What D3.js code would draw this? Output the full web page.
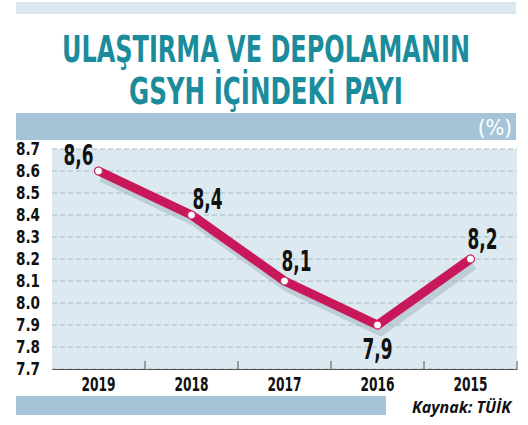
<!DOCTYPE html><html><head><meta charset="utf-8"><script src="https://d3js.org/d3.v7.min.js"></script>
<style>body{margin:0;background:#fff}</style></head><body><svg id="c" width="528" height="425"></svg>
<script>
const years=["2019","2018","2017","2016","2015"];
const values=[8.6,8.4,8.1,7.9,8.2];
const labels=["8,6","8,4","8,1","7,9","8,2"];
const yTicks=[7.7,7.8,7.9,8.0,8.1,8.2,8.3,8.4,8.5,8.6,8.7];
const svg=d3.select("#c");
const F="'DejaVu Sans Condensed','DejaVu Sans',sans-serif";
svg.append("rect").attr("x",16).attr("y",2).attr("width",500).attr("height",12).attr("fill","#dbe7ef");
svg.append("text").attr("x",266).attr("y",62).attr("text-anchor","middle").attr("font-family",F).attr("font-weight","bold").attr("font-size",38).attr("fill","#1a8c9c").attr("textLength",408).attr("lengthAdjust","spacingAndGlyphs").text("ULAŞTIRMA VE DEPOLAMANIN");
svg.append("text").attr("x",266).attr("y",104).attr("text-anchor","middle").attr("font-family",F).attr("font-weight","bold").attr("font-size",38).attr("fill","#1a8c9c").attr("textLength",274).attr("lengthAdjust","spacingAndGlyphs").text("GSYH İÇİNDEKİ PAYI");
svg.append("rect").attr("x",16).attr("y",113).attr("width",500).attr("height",27).attr("fill","#a6c4d8");
svg.append("text").attr("x",512).attr("y",135).attr("text-anchor","end").attr("font-family",F).attr("font-size",22).attr("fill","#fff").text("(%)");
const x=d3.scaleBand().domain(years).range([52,517]);
const y=d3.scaleLinear().domain([7.7,8.7]).range([369,149]);
svg.append("rect").attr("x",52).attr("y",149).attr("width",465).attr("height",220).attr("fill","#dde9f0");
svg.append("g").selectAll("line").data(yTicks).join("line").attr("x1",52).attr("x2",517).attr("y1",d=>y(d)).attr("y2",d=>y(d)).attr("stroke","#9ab0bf").attr("stroke-dasharray","5,3").attr("stroke-width",0.8);
const ya=svg.append("g").attr("transform","translate(40,0)").call(d3.axisLeft(y).tickValues(yTicks).tickFormat(d3.format(".1f")).tickSize(0));
ya.select(".domain").remove();
ya.selectAll("text").attr("font-family",F).attr("font-weight","bold").attr("font-size",17).attr("fill","#111").attr("x",0).attr("text-anchor","end").attr("textLength",24).attr("lengthAdjust","spacingAndGlyphs");
const xa=svg.append("g").attr("transform","translate(0,369)").call(d3.axisBottom(x).tickSize(0));
xa.select(".domain").attr("stroke","#555");
xa.selectAll("text").attr("font-family",F).attr("font-weight","bold").attr("font-size",19).attr("fill","#111").attr("dy","1.0em").attr("textLength",34).attr("lengthAdjust","spacingAndGlyphs");
svg.append("g").selectAll("line").data(years).join("line").attr("x1",(d,i)=>52+x.bandwidth()*(i+1)).attr("x2",(d,i)=>52+x.bandwidth()*(i+1)).attr("y1",361).attr("y2",369).attr("stroke","#555");
const line=d3.line().x((d,i)=>x(years[i])+x.bandwidth()/2).y(d=>y(d));
svg.append("path").datum(values).attr("d",line).attr("fill","none").attr("stroke","#9fb3c2").attr("stroke-opacity",0.5).attr("stroke-width",10).attr("transform","translate(3,6)").attr("stroke-linejoin","round");
svg.append("path").datum(values).attr("d",line).attr("fill","none").attr("stroke","#c8185a").attr("stroke-width",9).attr("stroke-linejoin","round").attr("stroke-linecap","round");
svg.append("g").selectAll("circle").data(values).join("circle").attr("cx",(d,i)=>x(years[i])+x.bandwidth()/2).attr("cy",d=>y(d)).attr("r",4).attr("fill","#fff").attr("stroke","#c8185a").attr("stroke-width",1);
const off=[[-20,-6],[16,-6],[12,-10],[0,34],[12,-10]];
svg.append("g").selectAll("text").data(values).join("text").attr("x",(d,i)=>x(years[i])+x.bandwidth()/2+off[i][0]).attr("y",(d,i)=>y(d)+off[i][1]).attr("text-anchor","middle").attr("font-family",F).attr("font-weight","bold").attr("font-size",29).attr("fill","#111").attr("textLength",30).attr("lengthAdjust","spacingAndGlyphs").text((d,i)=>labels[i]);
svg.append("rect").attr("x",16).attr("y",396).attr("width",370).attr("height",19).attr("fill","#a6c4d8");
svg.append("text").attr("x",511).attr("y",413).attr("text-anchor","end").attr("font-family","'Open Sans',sans-serif").attr("font-style","italic").attr("font-weight","bold").attr("font-size",16).attr("fill","#111").text("Kaynak: TÜİK");
</script></body></html>
